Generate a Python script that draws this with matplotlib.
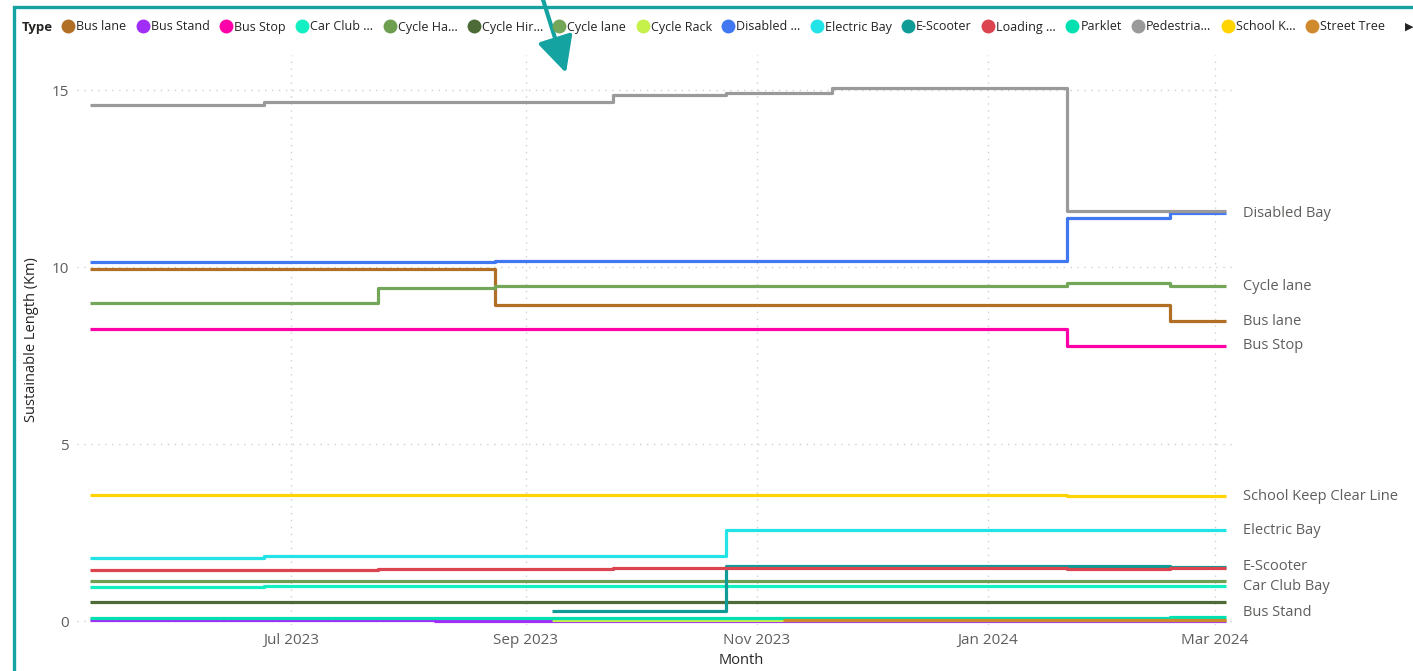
import numpy as np
import pandas as pd
import matplotlib
matplotlib.use("Agg")
import matplotlib.pyplot as plt
from matplotlib.lines import Line2D
from matplotlib.patches import Rectangle, FancyArrowPatch

plt.rcParams['font.family'] = ['Open Sans', 'DejaVu Sans']

nan = np.nan

dates = pd.to_datetime([
    "2023-05-09", "2023-06-24", "2023-07-24", "2023-08-08", "2023-08-24",
    "2023-09-08", "2023-09-24", "2023-10-24", "2023-11-08", "2023-11-21",
    "2024-01-22", "2024-02-18", "2024-03-04",
])

types = ["Bus lane", "Bus Stand", "Bus Stop", "Car Club Bay", "Cycle Hangar",
         "Cycle Hire", "Cycle lane", "Cycle Rack", "Disabled Bay", "Electric Bay",
         "E-Scooter", "Loading Bay", "Parklet", "Pedestrian", "School Keep Clear Line",
         "Street Tree"]
legend_labels = ["Bus lane", "Bus Stand", "Bus Stop", "Car Club ...", "Cycle Ha...",
                 "Cycle Hir...", "Cycle lane", "Cycle Rack", "Disabled ...", "Electric Bay",
                 "E-Scooter", "Loading ...", "Parklet", "Pedestria...", "School K...",
                 "Street Tree"]
colors = ["#B06F24", "#A02EF7", "#FF00A8", "#12EFC2", "#6E9E50",
          "#4C6B36", "#74A65A", "#C6F04A", "#4078F2", "#22E3E6",
          "#109C96", "#DC4450", "#00E0B0", "#9A9A9A", "#FFD400",
          "#D08A2E"]

bus_lane = [9.95, 9.95, 9.95, 9.95, 8.94, 8.94, 8.94, 8.94, 8.94, 8.94, 8.94, 8.47, 8.47]
bus_stand = [0.02, 0.02, 0.02, 0.01, 0.01, 0.01, 0.01, 0.01, 0.01, 0.01, 0.01, 0.01, 0.01]
bus_stop = [8.25, 8.25, 8.25, 8.25, 8.25, 8.25, 8.25, 8.25, 8.25, 8.26, 7.78, 7.78, 7.78]
car_club = [0.95, 0.98, 0.98, 0.98, 0.98, 0.98, 0.98, 0.98, 0.98, 0.98, 0.98, 0.98, 0.98]
cycle_hangar = [1.14, 1.14, 1.14, 1.14, 1.14, 1.14, 1.14, 1.14, 1.14, 1.14, 1.14, 1.14, 1.14]
cycle_hire = [0.53, 0.53, 0.53, 0.53, 0.53, 0.53, 0.53, 0.53, 0.53, 0.53, 0.53, 0.53, 0.53]
cycle_lane = [8.99, 8.99, 9.42, 9.42, 9.47, 9.47, 9.47, 9.47, 9.47, 9.47, 9.57, 9.47, 9.47]
cycle_rack = [nan, nan, nan, nan, nan, 0.02, 0.02, 0.02, 0.02, 0.02, 0.02, 0.02, 0.02]
disabled_bay = [10.16, 10.16, 10.16, 10.16, 10.17, 10.17, 10.18, 10.18, 10.18, 10.18, 11.39, 11.53, 11.53]
electric_bay = [1.77, 1.83, 1.83, 1.83, 1.83, 1.83, 1.85, 2.57, 2.57, 2.57, 2.57, 2.57, 2.57]
e_scooter = [nan, nan, nan, nan, nan, 0.28, 0.28, 1.55, 1.55, 1.55, 1.55, 1.53, 1.53]
loading = [1.44, 1.44, 1.46, 1.46, 1.48, 1.48, 1.51, 1.51, 1.51, 1.51, 1.47, 1.50, 1.50]
parklet = [0.09, 0.09, 0.09, 0.09, 0.09, 0.09, 0.09, 0.09, 0.09, 0.09, 0.09, 0.12, 0.12]
pedestrian = [14.60, 14.66, 14.66, 14.66, 14.68, 14.68, 14.87, 14.94, 14.94, 15.08, 11.58, 11.58, 11.58]
school_keep = [3.56, 3.56, 3.56, 3.56, 3.56, 3.56, 3.56, 3.56, 3.56, 3.56, 3.53, 3.53, 3.53]
street_tree = [nan, nan, nan, nan, nan, nan, nan, nan, 0.02, 0.02, 0.02, 0.02, 0.02]

series = [bus_lane, bus_stand, bus_stop, car_club, cycle_hangar, cycle_hire, cycle_lane,
          cycle_rack, disabled_bay, electric_bay, e_scooter, loading, parklet, pedestrian,
          school_keep, street_tree]

# series that get an end label on the right
end_labels = ["Disabled Bay", "Cycle lane", "Bus lane", "Bus Stop", "School Keep Clear Line",
              "Electric Bay", "E-Scooter", "Car Club Bay", "Bus Stand"]

W, H = 1413, 671
fig = plt.figure(figsize=(W / 100, H / 100), dpi=100)
ax = fig.add_axes([77 / W, 1 - 625 / H, (1232 - 77) / W, (625 - 55) / H])

for name, vals, c in zip(types, series, colors):
    ax.plot(dates, vals, drawstyle="steps-post", color=c, lw=2.3, solid_capstyle="butt")

ax.set_xlim(pd.Timestamp("2023-05-05 12:00"), pd.Timestamp("2024-03-05 12:00"))
ax.set_ylim(-0.11, 16.0)
ax.set_yticks([0, 5, 10, 15])
xt = pd.to_datetime(["2023-07-01", "2023-09-01", "2023-11-01", "2024-01-01", "2024-03-01"])
ax.set_xticks(xt)
ax.set_xticklabels([d.strftime("%b %Y") for d in xt])
ax.tick_params(length=0, labelsize=11, labelcolor="#605E5C", pad=6)
ax.grid(True, color="#D0D0D0", linestyle=(0, (1, 4)), lw=1)
for s in ax.spines.values():
    s.set_visible(False)

for name in end_labels:
    vals = series[types.index(name)]
    y = max(vals[-1], 0.23)  # keep label inside plot
    ax.annotate(name, xy=(dates[-1], y), xytext=(12, 0), textcoords="offset points",
                va="center", ha="left", fontsize=10.5, color="#605E5C", annotation_clip=False)

fig.text(32 / W, 1 - 340 / H, "Sustainable Length (Km)", rotation=90, ha="center", va="center",
         fontsize=10.5, color="#252423")
fig.text(741 / W, 1 - 661 / H, "Month", ha="center", va="center", fontsize=10.5, color="#252423")

# legend
fig.text(22 / W, 1 - 27 / H, "Type", ha="left", va="center", fontsize=9.5, fontweight="bold",
         color="#252423")
handles = [Line2D([], [], marker="o", ls="none", markersize=9, color=c) for c in colors]
fig.legend(handles, legend_labels, loc="center left", bbox_to_anchor=(64 / W, 1 - 27 / H),
           ncol=len(handles), frameon=False, fontsize=9, handlelength=0.7, handletextpad=0.3,
           columnspacing=0.95, borderaxespad=0, borderpad=0, labelcolor="#252423")
fig.text(1405 / W, 1 - 27 / H, "▶", ha="left", va="center", fontsize=8, color="#252423",
         family=["DejaVu Sans"])

# visual border and pointer arrow
fig.patches.append(Rectangle((14 / W, 0 - 0.1), 1.2, (1 - 7 / H) + 0.1, transform=fig.transFigure,
                             fill=False, ec="#14A3A0", lw=2.4))
fig.patches.append(FancyArrowPatch((541 / W, 1.01), (566 / W, 1 - 73 / H), transform=fig.transFigure,
                                   arrowstyle="-|>,head_length=1.0,head_width=0.5", color="#14A3A0",
                                   lw=3, mutation_scale=22, shrinkA=0, shrinkB=0))

fig.savefig("out.png", dpi=100)
